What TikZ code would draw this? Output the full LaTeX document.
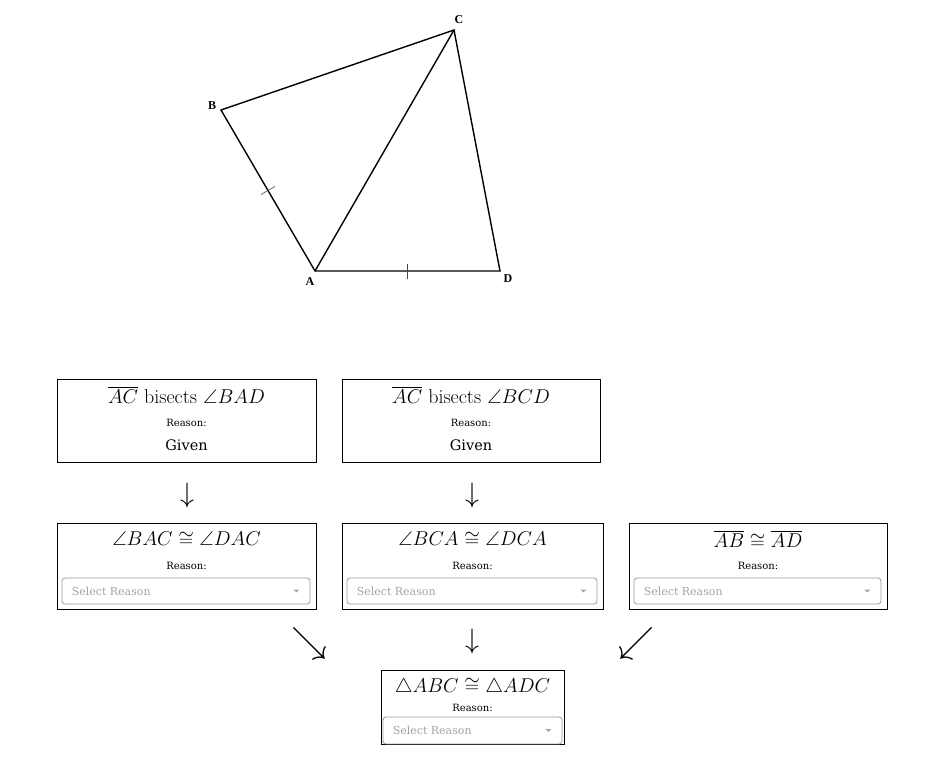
\RequirePackage{fix-cm}
\documentclass[tikz,border=0pt]{standalone}
\usepackage{amsmath,amssymb}
\usepackage{fontspec}
\newfontfamily\uifont{DejaVu Serif}
\newfontfamily\labfont{Liberation Serif}
\usetikzlibrary{calc}
\definecolor{selline}{HTML}{9A9A9A}
\definecolor{seltext}{HTML}{A3A3A3}
\definecolor{tickc}{HTML}{444444}

\begin{document}
\begin{tikzpicture}[x=1pt,y=-1pt,
  stmt/.style={draw,line width=0.9pt,inner sep=0pt},
  title/.style={font=\fontsize{20}{22}\selectfont},
  rsn/.style={font=\uifont\fontsize{10}{12}\selectfont},
  given/.style={font=\uifont\fontsize{14.5}{17}\selectfont},
  selbox/.style={draw=selline,line width=0.8pt,rounded corners=3pt,inner sep=0pt},
  seltxt/.style={font=\uifont\fontsize{11}{13}\selectfont,text=seltext,anchor=west,inner sep=0pt},
  vertex/.style={font=\labfont\fontsize{12}{14}\selectfont\bfseries,inner sep=0pt},
  glyph/.style={font=\fontsize{28}{30}\selectfont,inner sep=0pt},
  dglyph/.style={font=\fontsize{36}{40}\selectfont,inner sep=0pt}]
  \useasboundingbox (0,0) rectangle (943,766);

  % figure
  \coordinate (A) at (315,271);
  \coordinate (B) at (221,110);
  \coordinate (C) at (454,30);
  \coordinate (D) at (500,271);
  \draw[line width=1.4pt,line join=miter] (A) -- (B) -- (C) -- (D) -- cycle;
  \draw[line width=1.4pt] (A) -- (C);
  \node[vertex] (lA) at (310,282) {A};
  \node[vertex] (lB) at (212,106) {B};
  \node[vertex] (lC) at (459,20) {C};
  \node[vertex] (lD) at (508,279) {D};
  \draw[tickc,line width=0.6pt] (261,194.5) -- (275,186.5);
  \draw[tickc,line width=0.6pt] (407.5,263.5) -- (407.5,279);

  % given statements
  \foreach \cx/\w/\n/\s in {186.5/259/g1/{$\overline{AC}$ bisects $\angle BAD$},
                            471/258/g2/{$\overline{AC}$ bisects $\angle BCD$}} {
    \node[stmt,minimum width=\w,minimum height=83] (\n) at (\cx,420.5) {};
    \node[title] (\n t) at (\cx,395) {\s};
    \node[rsn] (\n r) at (\cx,423) {Reason:};
    \node[given] (\n g) at (\cx,445) {Given};
  }

  % derived statements
  \foreach \cx/\w/\n/\s in {186.5/259/d1/{$\angle BAC\cong\angle DAC$},
                            472.5/261/d2/{$\angle BCA\cong\angle DCA$},
                            758/258/d3/{$\overline{AB}\cong\overline{AD}$}} {
    \node[stmt,minimum width=\w,minimum height=86] (\n) at (\cx,566) {};
    \node[title] (\n t) at (\cx,539) {\s};
    \node[rsn] (\n r) at (\cx,566) {Reason:};
    \node[selbox,minimum width=\w-11,minimum height=26] (\n s) at (\cx-0.5,591) {};
    \node[seltxt] (\n x) at ($(\n s.west)+(10,0)$) {Select Reason};
    \fill[seltext] ($(\n s.east)+(-17,-1.5)$) -- ++(6,0) -- ++(-3,3) -- cycle;
  }

  % conclusion
  \node[stmt,minimum width=183,minimum height=74] (c1) at (472.5,707) {};
  \node[title] (c1t) at (472.5,687) {$\triangle ABC\cong\triangle ADC$};
  \node[rsn] (c1r) at (472.5,708) {Reason:};
  \node[selbox,minimum width=179,minimum height=27] (c1s) at (472.5,730.5) {};
  \node[seltxt] (c1x) at ($(c1s.west)+(10,0)$) {Select Reason};
  \fill[seltext] ($(c1s.east)+(-17,-1.5)$) -- ++(6,0) -- ++(-3,3) -- cycle;

  % arrows
  \node[glyph] (a1) at (187,495) {$\downarrow$};
  \node[glyph] (a2) at (472,495) {$\downarrow$};
  \node[glyph] (a4) at (472,641) {$\downarrow$};
  \node[dglyph] (a3) at (309,643) {$\searrow$};
  \node[dglyph] (a5) at (636,643) {$\swarrow$};
\end{tikzpicture}
\end{document}
